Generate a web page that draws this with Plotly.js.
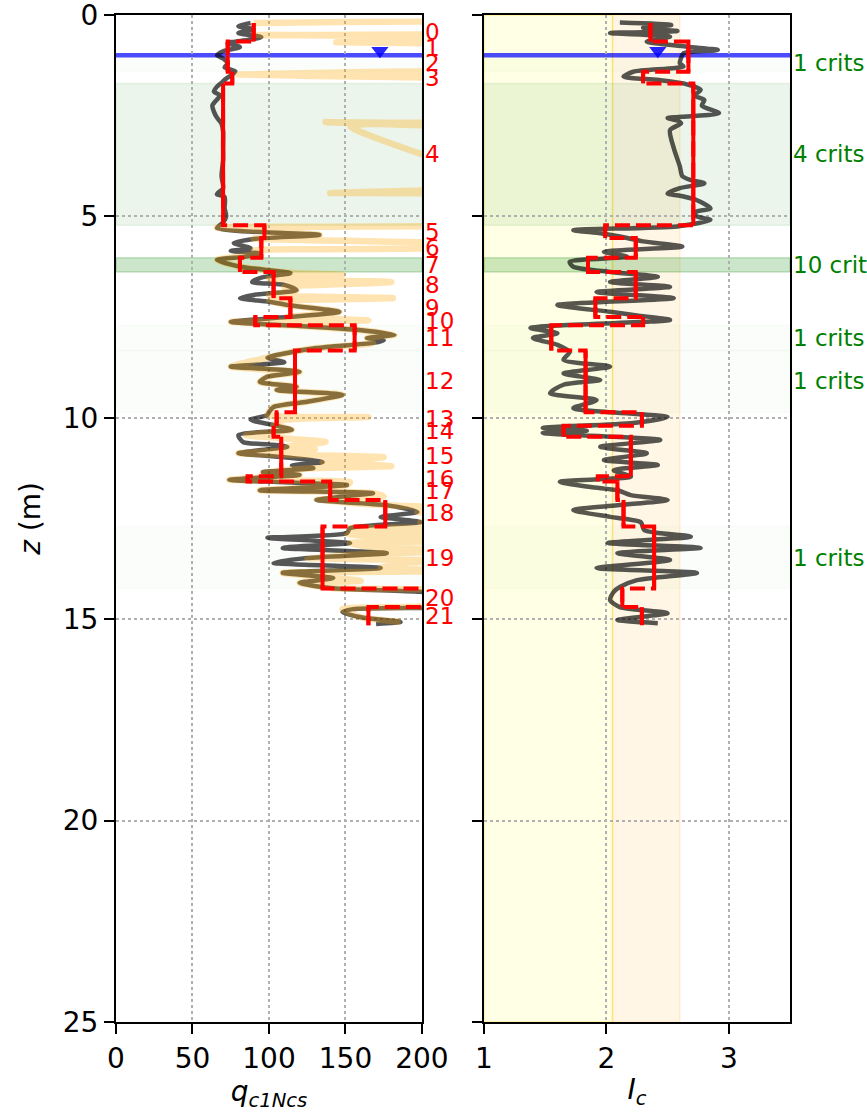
<!DOCTYPE html>
<html><head><meta charset="utf-8">
<script src="https://cdn.plot.ly/plotly-3.0.1.min.js"></script>
<style>html,body{margin:0;padding:0;background:#fff}#chart{width:867px;height:1116px}</style>
</head><body><div id="chart"></div>
<script>
// ---- data ----
const layerDepths = [0.2, 0.66, 1.0, 1.41, 1.7, 5.22, 5.54, 6.03, 6.38, 7.03, 7.5, 7.7, 8.33, 9.86, 10.2, 10.47, 11.45, 11.58, 12.04, 12.7, 14.24, 14.7, 15.15];
const layerQ = [90, 73, 73, 76, 70, 97, 95, 81, 103, 114, 91, 156, 117, 105, 103, 108, 86, 140, 176, 135, 215, 165];
const layerIc = [2.36, 2.67, 2.67, 2.30, 2.71, 1.99, 2.24, 1.85, 2.24, 1.91, 2.30, 1.55, 1.83, 2.29, 1.65, 2.20, 1.93, 2.09, 2.14, 2.39, 2.13, 2.29];
const critLayers = [2, 4, 7, 11, 12, 19];
const critCounts = [1, 4, 10, 1, 1, 1];
const gwl = 1.0;
const gwlMarkerDepth = 0.89;
const gwlMarkerQ = 172.5;
const gwlMarkerIc = 2.42;

const qDepth = [0.20,0.28,0.36,0.45,0.55,0.62,0.70,0.80,0.90,1.00,1.08,1.20,1.30,1.40,1.48,1.58,1.68,1.78,1.90,2.00,2.10,2.25,2.40,2.55,2.70,2.90,3.20,3.60,4.00,4.30,4.45,4.52,4.80,5.00,5.15,5.29,5.46,5.56,5.66,5.79,5.86,5.92,6.00,6.08,6.25,6.41,6.52,6.63,6.70,6.83,6.95,7.03,7.12,7.20,7.37,7.50,7.62,7.72,7.82,7.94,8.02,8.08,8.14,8.27,8.39,8.51,8.62,8.73,8.80,8.86,8.98,9.11,9.23,9.31,9.43,9.60,9.73,9.86,9.93,10.05,10.18,10.30,10.43,10.60,10.66,10.72,10.80,10.88,10.98,11.10,11.18,11.25,11.35,11.42,11.54,11.60,11.67,11.80,11.87,11.95,12.04,12.17,12.34,12.46,12.59,12.74,12.86,12.98,13.05,13.11,13.23,13.36,13.48,13.60,13.73,13.85,13.98,14.10,14.23,14.32,14.45,14.65,14.75,14.82,14.95,15.07,15.12];
const qVals = [88,80,90,80,95,86,73,81,70,66,70,73,71,78,76,72,69,66,64,68,66,63,64,66,69,70,70,70,69,70,66,71,71,72,70,66,133,90,77,88,75,94,85,66,81,114,95,89,110,118,90,81,100,112,146,112,75,120,159,182,164,175,168,131,112,99,110,75,105,120,99,94,118,105,148,125,103,100,99,88,103,115,80,83,100,112,95,80,110,135,115,129,96,120,74,110,151,94,168,150,131,177,197,173,199,153,151,99,130,153,109,177,125,103,173,109,142,120,142,199,230,240,155,148,160,186,170];

const oDepth = [0.20,0.27,0.42,0.50,0.56,0.66,0.68,0.75,1.40,1.48,1.60,2.62,2.66,2.70,2.76,3.95,4.38,4.42,4.46,5.18,5.24,5.28,5.46,5.55,5.70,5.78,5.85,5.92,6.08,6.25,6.40,6.45,6.55,6.63,6.75,6.83,6.95,7.03,7.10,7.20,7.37,7.50,7.58,7.62,7.72,7.82,7.94,8.02,8.14,8.27,8.39,8.51,8.73,8.86,8.98,9.11,9.23,9.31,9.43,9.60,9.73,9.93,9.98,10.05,10.18,10.30,10.43,10.60,10.72,10.78,10.88,10.98,11.10,11.20,11.25,11.35,11.42,11.54,11.60,11.67,11.80,11.87,11.95,12.04,12.17,12.25,12.34,12.46,12.59,12.70,12.74,12.80,12.90,12.98,13.05,13.11,13.20,13.30,13.36,13.48,13.55,13.60,13.73,13.80,13.85,13.98,14.05,14.10,14.23,14.32,14.60,14.75,14.95,15.07];
const oVals = [90,300,300,93,300,300,144,300,300,80,300,300,137,300,153,240,300,140,300,300,230,66,133,90,240,230,90,94,66,81,114,148,100,180,110,118,100,181,100,112,146,112,165,75,120,159,182,164,168,131,112,99,75,120,99,94,118,105,148,125,103,99,165,110,103,115,85,137,112,130,80,175,135,180,129,96,120,74,153,151,94,168,175,131,177,230,197,240,199,240,153,230,151,180,240,153,165,240,177,125,230,190,173,240,109,142,160,120,142,240,250,148,160,186];

const icDepth = [0.19,0.25,0.32,0.40,0.45,0.54,0.66,0.79,0.87,0.95,1.07,1.20,1.28,1.41,1.53,1.61,1.70,1.86,2.00,2.11,2.25,2.44,2.56,2.62,2.69,2.86,3.30,3.76,4.00,4.10,4.18,4.30,4.43,4.50,4.60,4.80,4.90,5.00,5.09,5.25,5.34,5.42,5.50,5.62,5.75,5.88,6.00,6.13,6.25,6.38,6.50,6.63,6.75,6.88,7.03,7.20,7.37,7.46,7.57,7.77,7.90,8.02,8.19,8.37,8.56,8.73,8.90,9.06,9.18,9.39,9.56,9.76,9.98,10.13,10.25,10.32,10.38,10.55,10.72,10.88,11.05,11.17,11.30,11.46,11.59,11.72,11.80,11.92,12.04,12.17,12.29,12.46,12.59,12.79,12.95,13.11,13.23,13.36,13.53,13.73,13.85,14.03,14.20,14.32,14.52,14.70,14.85,15.02,15.10];
const icVals = [2.11,2.53,2.30,2.58,2.03,2.52,2.33,2.66,2.91,2.63,2.61,2.60,2.63,2.22,2.14,2.42,2.63,2.77,2.72,2.80,2.78,2.92,2.50,2.58,2.61,2.52,2.55,2.60,2.62,2.69,2.80,2.60,2.50,2.62,2.74,2.85,2.72,2.74,2.85,2.58,1.73,1.95,2.11,2.30,2.62,1.98,2.17,1.70,1.73,2.03,2.42,2.03,2.52,1.92,2.55,1.60,2.03,2.25,2.52,1.38,1.60,1.40,1.60,1.70,1.65,2.03,1.65,1.95,1.65,1.54,1.92,1.73,2.50,2.22,1.48,1.84,1.48,2.44,1.95,2.33,1.98,2.42,2.06,2.20,1.62,1.87,2.09,2.20,2.50,2.09,1.73,2.03,2.28,2.31,2.69,2.01,2.77,2.09,2.52,1.92,2.74,2.25,2.11,2.06,2.03,2.11,2.50,2.09,2.42];

const icBands = [[1.0, 2.05, 'rgba(255,255,0,0.10)', 'rgba(255,215,0,0.35)'], [2.05, 2.6, 'rgba(255,165,0,0.10)', 'rgba(255,165,0,0.15)']];

// ---- build step lines ----
function stepXY(vals) {
  const x = [], y = [], vx = [], vy = [];
  for (let i = 0; i < vals.length; i++) {
    x.push(vals[i], vals[i]); y.push(layerDepths[i], layerDepths[i + 1]);
    vx.push(vals[i], vals[i], null); vy.push(layerDepths[i], layerDepths[i + 1], null);
  }
  return {x, y, vx, vy};
}
const sQ = stepXY(layerQ), sIc = stepXY(layerIc);
const mids = layerQ.map((_, i) => (layerDepths[i] + layerDepths[i + 1]) / 2);

const FONT = 'DejaVu Sans, Verdana, sans-serif';
const grayLine = {color: 'rgba(0,0,0,0.66)', width: 4.5, shape: 'spline', smoothing: 0.7};
const orangeLine = {color: 'rgba(255,165,0,0.3)', width: 6.5, shape: 'spline', smoothing: 0.5};
const redDash = {color: 'red', width: 4, dash: '15px,6px'};
const redSolid = {color: 'red', width: 4};
const triMarker = {symbol: 'triangle-down', size: 15, color: 'rgba(0,0,255,0.85)'};

const traces = [
  {x: qVals, y: qDepth, xaxis: 'x', yaxis: 'y', mode: 'lines', line: grayLine},
  {x: oVals, y: oDepth, xaxis: 'x', yaxis: 'y', mode: 'lines', line: orangeLine},
  {x: sQ.x, y: sQ.y, xaxis: 'x', yaxis: 'y', mode: 'lines', line: redDash},
  {x: sQ.vx, y: sQ.vy, xaxis: 'x', yaxis: 'y', mode: 'lines', line: redSolid, connectgaps: false},
  {x: [gwlMarkerQ], y: [gwlMarkerDepth], xaxis: 'x', yaxis: 'y', mode: 'markers', marker: triMarker},
  {x: icVals, y: icDepth, xaxis: 'x2', yaxis: 'y2', mode: 'lines', line: grayLine},
  {x: sIc.x, y: sIc.y, xaxis: 'x2', yaxis: 'y2', mode: 'lines', line: redDash},
  {x: sIc.vx, y: sIc.vy, xaxis: 'x2', yaxis: 'y2', mode: 'lines', line: redSolid, connectgaps: false},
  {x: [gwlMarkerIc], y: [gwlMarkerDepth], xaxis: 'x2', yaxis: 'y2', mode: 'markers', marker: triMarker}
];

const shapes = [];
icBands.forEach(b => shapes.push({type: 'rect', xref: 'x2', yref: 'y2 domain', x0: b[0], x1: b[1], y0: 0, y1: 1, fillcolor: b[2], line: {color: b[3], width: 1.5}, layer: 'below'}));
critLayers.forEach((li, k) => {
  const a = 0.02 * critCounts[k];
  [['x domain', 'y'], ['x2 domain', 'y2']].forEach(r => shapes.push({
    type: 'rect', xref: r[0], yref: r[1], x0: 0, x1: 1, y0: layerDepths[li], y1: layerDepths[li + 1],
    fillcolor: `rgba(0,128,0,${a})`, line: {color: `rgba(0,128,0,${a})`, width: 1.5}, layer: 'below'}));
});
[['x domain', 'y'], ['x2 domain', 'y2']].forEach(r => shapes.push({
  type: 'line', xref: r[0], yref: r[1], x0: 0, x1: 1, y0: gwl, y1: gwl,
  line: {color: 'rgba(0,0,255,0.7)', width: 4.5}, layer: 'below'}));

const annotations = [];
mids.forEach((m, i) => annotations.push({xref: 'x domain', yref: 'y', x: 1, y: m, xanchor: 'left', yanchor: 'middle', xshift: 1,
  text: String(i), showarrow: false, font: {family: FONT, size: 23, color: 'red'}}));
critLayers.forEach((li, k) => annotations.push({xref: 'x2 domain', yref: 'y2', x: 1, y: (layerDepths[li] + layerDepths[li + 1]) / 2,
  xanchor: 'left', yanchor: 'middle', xshift: 1, text: `${critCounts[k]} crits`, showarrow: false,
  font: {family: FONT, size: 23, color: 'green'}}));

const axBase = {showline: true, linecolor: 'black', linewidth: 2, mirror: true, ticks: 'outside', ticklen: 10, tickwidth: 2,
  tickcolor: 'black', showgrid: true, gridcolor: '#b0b0b0', griddash: 'dot', gridwidth: 2, zeroline: false,
  ticklabeloverflow: 'allow', tickfont: {family: FONT, size: 28, color: 'black'}};

const layout = {
  width: 867, height: 1116, margin: {l: 0, r: 0, t: 0, b: 0}, paper_bgcolor: 'white', plot_bgcolor: 'white',
  showlegend: false, font: {family: FONT, color: 'black'},
  xaxis: Object.assign({}, axBase, {domain: [0.1338, 0.4867], range: [0, 200], tickvals: [0, 50, 100, 150, 200], anchor: 'y',
    title: {text: '<i>q</i><sub><i>c1Ncs</i></sub>', font: {family: FONT, size: 28}, standoff: 6}}),
  yaxis: Object.assign({}, axBase, {domain: [0.0842, 0.9866], range: [25, 0], tickvals: [0, 5, 10, 15, 20, 25], anchor: 'x',
    title: {text: '<i>z</i> (m)', font: {family: FONT, size: 28}, standoff: 14}}),
  xaxis2: Object.assign({}, axBase, {domain: [0.5582, 0.9112], range: [1, 3.5], tickvals: [1, 2, 3], anchor: 'y2',
    title: {text: '<i>I</i><sub><i>c</i></sub>', font: {family: FONT, size: 28}, standoff: 6}}),
  yaxis2: Object.assign({}, axBase, {domain: [0.0842, 0.9866], range: [25, 0], tickvals: [0, 5, 10, 15, 20, 25], anchor: 'x2',
    showticklabels: false}),
  shapes, annotations
};

Plotly.newPlot('chart', traces, layout, {staticPlot: true, displayModeBar: false});
</script></body></html>
